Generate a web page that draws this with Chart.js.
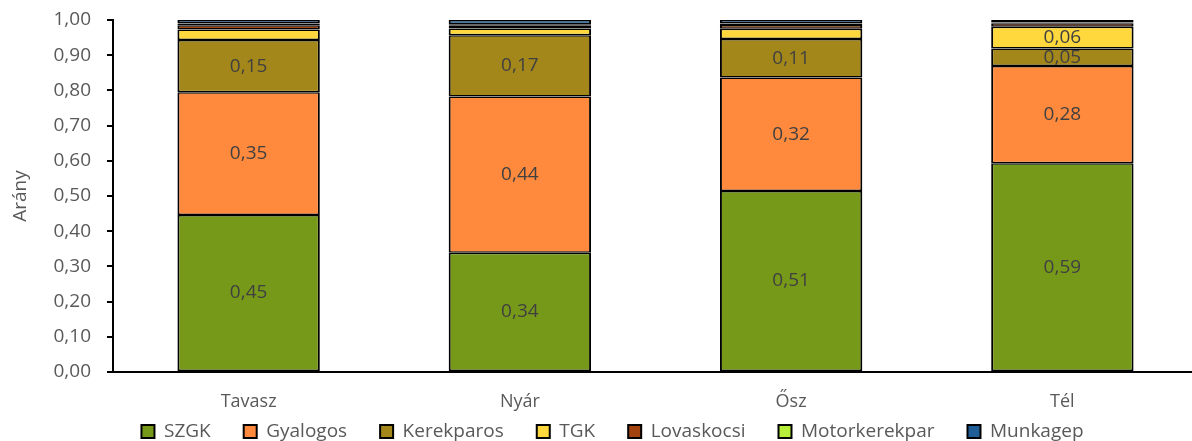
<!DOCTYPE html>
<html lang="hu">
<head>
<meta charset="UTF-8">
<title>Arány évszakonként</title>
<style>
  body {
    margin: 0;
    overflow: hidden;
    background: #fff;
  }
</style>
<script src="https://cdn.jsdelivr.net/npm/chart.js"></script>
</head>
<body>
<canvas id="chart" width="1200" height="441"></canvas>

<script>
const seasons = ['Tavasz', 'Nyár', 'Ősz', 'Tél'];

const szgk          = [0.446, 0.339, 0.514, 0.593];
const gyalogos      = [0.349, 0.444, 0.323, 0.276];
const kerekparos    = [0.148, 0.174, 0.109, 0.050];
const tgk           = [0.030, 0.019, 0.029, 0.062];
const lovaskocsi    = [0.012, 0.008, 0.011, 0.010];
const motorkerekpar = [0.005, 0.004, 0.004, 0.002];
const munkagep      = [0.010, 0.012, 0.010, 0.007];

const yTicks = [0, 0.1, 0.2, 0.3, 0.4, 0.5, 0.6, 0.7, 0.8, 0.9, 1.0];

const FONT = "'Open Sans', 'Noto Sans', sans-serif";
const fmt = v => v.toFixed(2).replace('.', ',');

function series(label, data, color) {
  return {
    label: label,
    data: data,
    backgroundColor: color,
    borderColor: '#000',
    // slightly thinner top/bottom so stacked joins don't get too heavy
    borderWidth: { top: 1.5, bottom: 1.5, left: 2, right: 2 },
    borderSkipped: false,
    barPercentage: 0.525,
    categoryPercentage: 1
  };
}

// value labels in the middle of the bigger segments
const segmentLabels = {
  id: 'segmentLabels',
  afterDatasetsDraw(chart) {
    const ctx = chart.ctx;
    ctx.save();
    ctx.font = '19px ' + FONT;
    ctx.fillStyle = '#404040';
    ctx.textAlign = 'center';
    ctx.textBaseline = 'middle';
    chart.data.datasets.forEach((ds, i) => {
      chart.getDatasetMeta(i).data.forEach((bar, j) => {
        const v = ds.data[j];
        if (v < 0.045) return;
        ctx.fillText(fmt(v), bar.x, (bar.y + bar.base) / 2);
      });
    });
    ctx.restore();
  }
};

// move the legend row: a bit right of the canvas centre, and up so it
// sits close under the category labels
const legendShift = {
  id: 'legendShift',
  afterLayout(chart) {
    const lg = chart.legend;
    lg.left += 46;
    lg.top -= 10;
    lg.bottom -= 10;
  }
};

new Chart(document.getElementById('chart'), {
  type: 'bar',
  data: {
    labels: seasons,
    datasets: [
      series('SZGK', szgk, '#77991a'),
      series('Gyalogos', gyalogos, '#ff8a3d'),
      series('Kerekparos', kerekparos, '#a4871a'),
      series('TGK', tgk, '#ffd83d'),
      series('Lovaskocsi', lovaskocsi, '#a2420f'),
      series('Motorkerekpar', motorkerekpar, '#b6ee3a'),
      series('Munkagep', munkagep, '#1f5e96')
    ]
  },
  options: {
    responsive: false,
    animation: false,
    layout: { padding: { top: 20, right: 2, left: 0, bottom: -20 } },
    plugins: {
      tooltip: { enabled: false },
      legend: {
        position: 'bottom',
        labels: {
          boxWidth: 13,
          boxHeight: 13,
          padding: 14,
          color: '#595959',
          font: { family: FONT, size: 19 },
          generateLabels(chart) {
            const items = Chart.defaults.plugins.legend.labels.generateLabels(chart);
            // widen the gap between entries without adding vertical padding
            items.forEach(it => {
              it.text = it.text + '\u2002\u2002';
              it.lineWidth = 2;
            });
            return items;
          }
        }
      }
    },
    scales: {
      x: {
        stacked: true,
        grid: { display: false, drawTicks: false },
        border: { display: true, color: '#000', width: 2 },
        ticks: { color: '#595959', font: { family: FONT, size: 18 }, padding: 19 },
        afterFit(scale) { scale.height = 46; }
      },
      y: {
        stacked: true,
        min: 0,
        max: 1,
        afterBuildTicks(scale) { scale.ticks = yTicks.map(v => ({ value: v })); },
        grid: { drawOnChartArea: false, drawTicks: true, tickLength: 6, color: '#000', lineWidth: 2 },
        border: { display: true, color: '#000', width: 2 },
        ticks: {
          color: '#595959',
          font: { family: FONT, size: 19 },
          padding: 16,
          callback: v => fmt(v)
        },
        title: {
          display: true,
          text: 'Arány',
          color: '#595959',
          font: { family: FONT, size: 19 },
          padding: { top: 9, bottom: 0 }
        },
        afterFit(scale) {
          scale.width = 113;
          // let the chart area reach the top padding; labels may overhang
          scale.paddingTop = 0;
          scale.paddingBottom = 0;
        }
      }
    }
  },
  plugins: [segmentLabels, legendShift]
});
</script>
</body>
</html>
